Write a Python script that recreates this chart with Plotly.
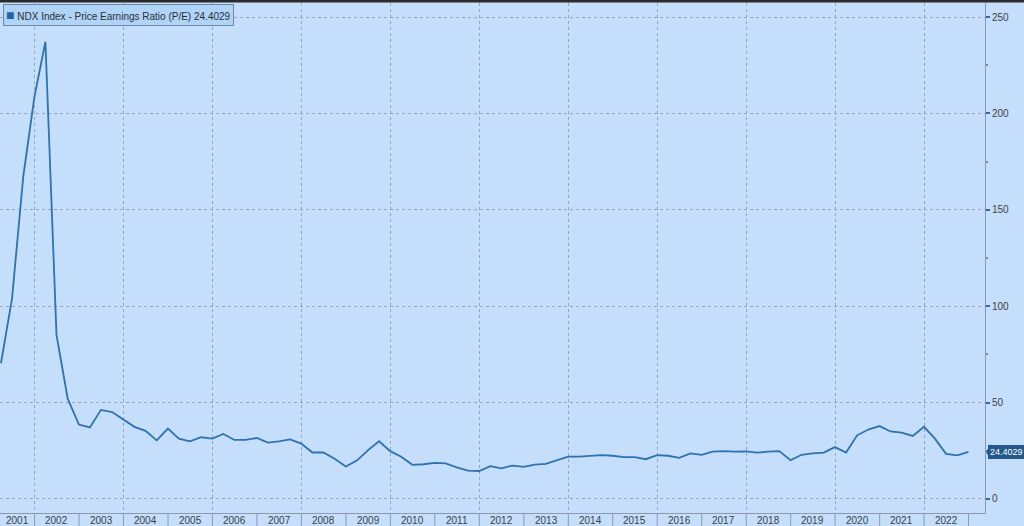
import pandas as pd
import plotly.graph_objects as go

# Quarterly P/E readings for the NDX, Q1 2001 through Q4 2022
pe_ratio = [
    70.4, 104.1, 167.2, 208.7,
    237.2, 85.1, 52.0, 38.6,
    37.1, 46.2, 45.1, 41.1,
    37.4, 35.3, 30.4, 36.5,
    31.3, 29.9, 32.0, 31.3,
    33.7, 30.6, 30.6, 31.6,
    29.2, 29.9, 30.9, 28.7,
    24.1, 24.1, 20.8, 16.8,
    19.9, 25.2, 29.9, 24.8,
    21.9, 17.7, 18.0, 18.7,
    18.4, 16.4, 14.7, 14.5,
    17.0, 15.9, 17.3, 16.6,
    17.8, 18.2, 20.3, 22.0,
    22.0, 22.4, 22.7, 22.4,
    21.7, 21.7, 20.6, 22.7,
    22.4, 21.3, 23.6, 22.9,
    24.5, 24.8, 24.5, 24.7,
    24.0, 24.5, 24.8, 20.1,
    22.9, 23.6, 24.0, 26.9,
    24.1, 33.0, 36.0, 37.8,
    35.0, 34.4, 32.7, 37.4,
    31.3, 23.4, 22.6, 24.4029,
]
quarter_ends = pd.date_range("2001-03-31", periods=len(pe_ratio), freq="QE")
years = list(range(2001, 2023))
last_value = "24.4029"
series_name = "NDX Index - Price Earnings Ratio (P/E)"
x_range = ["2001-03-23", "2023-05-16"]

BG = "#c5defc"
LINE = "#2f72b2"
GRID = "#9aa6b6"
TEXT = "#3a3f47"
TAG = "#23598c"

fig = go.Figure()
fig.add_trace(go.Scatter(
    x=quarter_ends, y=pe_ratio, mode="lines",
    line=dict(color=LINE, width=1.8), name=series_name,
    hoverinfo="x+y",
))

# Year labels sit in boxes between the year boundaries;
# the first box is clipped by the plot edge, so centre it on what's visible
start = pd.Timestamp(x_range[0])
for yr in years:
    lo = max(pd.Timestamp(f"{yr}-01-01"), start)
    hi = pd.Timestamp(f"{yr + 1}-01-01")
    fig.add_annotation(
        x=lo + (hi - lo) / 2, y=0, xref="x", yref="paper",
        text=str(yr), showarrow=False, yanchor="middle", yshift=-7,
        font=dict(size=10, color=TEXT),
    )
for yr in years + [years[-1] + 1]:
    fig.add_shape(
        type="line", xref="x", yref="paper",
        x0=f"{yr}-01-01", x1=f"{yr}-01-01", y0=0, y1=-0.03,
        line=dict(color="#8e9aaa", width=1),
    )

# Legend-style label in the top-left corner
fig.add_annotation(
    x=0, y=1, xref="paper", yref="paper", xanchor="left", yanchor="top",
    xshift=3, yshift=-1, showarrow=False, align="left",
    text=(f'<span style="color:#2563a5;font-size:14px">■</span> '
          f'{series_name} {last_value}'),
    font=dict(size=10, color="#2a2f36"),
    bgcolor="#b0d3f8", bordercolor="#6f8aa6", borderwidth=1, borderpad=2,
)

# Last value tag on the right axis, with a small pointer
fig.add_annotation(
    x=1, y=pe_ratio[-1], xref="paper", yref="y", xanchor="left",
    xshift=3, showarrow=False, text=last_value,
    font=dict(size=9, color="white"),
    bgcolor=TAG, bordercolor=TAG, borderwidth=1, borderpad=1,
)
tip = pe_ratio[-1]
fig.add_shape(
    type="path", xref="paper", yref="y",
    path=f"M 1.0012 {tip} L 1.0055 {tip + 4.2} L 1.0055 {tip - 4.2} Z",
    fillcolor=TAG, line_width=0,
)

# Thin dark strip across the top
fig.add_shape(type="rect", xref="paper", yref="paper", x0=-0.01, x1=1.05,
              y0=1.001, y1=1.008, fillcolor="#2b2b2b", line_width=0)

fig.update_layout(
    width=1024, height=526,
    margin=dict(l=0, r=39, t=3, b=13),
    paper_bgcolor=BG, plot_bgcolor=BG,
    showlegend=False,
    font=dict(family="Liberation Sans, Arial, sans-serif", color=TEXT),
    xaxis=dict(
        range=x_range,
        dtick="M24", tick0="2002-01-01",
        showgrid=True, gridcolor=GRID, griddash="dot", gridwidth=1,
        showticklabels=False, ticks="",
        showline=True, linecolor="#8e9aaa", linewidth=1,
        zeroline=False,
    ),
    yaxis=dict(
        side="right", range=[-7.3, 257.3],
        tickvals=[0, 50, 100, 150, 200, 250],
        showgrid=True, gridcolor=GRID, griddash="dot", gridwidth=1,
        ticks="outside", ticklen=4, tickwidth=2, tickcolor="#2f6aa3",
        minor=dict(dtick=25, ticks="outside", ticklen=2, tickcolor="#6f8aa6"),
        showline=True, linecolor="#7f9bb8", linewidth=1,
        zeroline=False,
        tickfont=dict(size=10, color=TEXT),
    ),
)

# drop the default page margin so the figure fills the window exactly
fig.write_html(
    "out.html",
    config={"displayModeBar": False},
    post_script="document.body.style.margin='0';"
                "document.body.style.overflow='hidden';"
                f"document.body.style.background='{BG}';",
)
